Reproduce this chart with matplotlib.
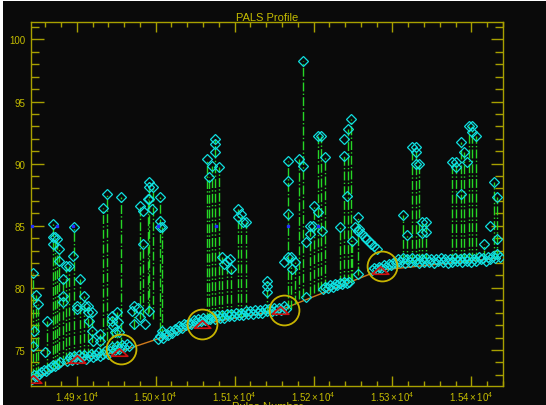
# PALS profile: signal vs pulse number, with the fitted trend and marked segments
import matplotlib.pyplot as plt
from matplotlib.ticker import MultipleLocator, FuncFormatter
from matplotlib.patches import Rectangle

title = 'PALS Profile'
xlabel = 'Pulse Number'

# baseline samples (dense cyan band)
base_pulse = [14843, 14846, 14849, 14852, 14855, 14858, 14861, 14864, 14867, 14870, 14873, 14876, 14879,
              14888, 14891, 14894, 14897, 14900, 14903, 14906, 14909, 14912, 14915, 14918, 14921, 14924,
              14927, 14930, 14933, 14936, 14939,
              14942, 14945, 14948, 14951, 14954, 14957, 14960, 14963, 14966,
              15003, 15006, 15009, 15012, 15015, 15018, 15021, 15024, 15027, 15030, 15033, 15036, 15039,
              15042, 15045, 15048, 15051, 15054, 15057, 15060, 15063, 15066,
              15069, 15072, 15075, 15078, 15081, 15084, 15087, 15090, 15093, 15096, 15099, 15102, 15105,
              15108, 15111, 15114, 15117, 15120, 15123, 15126, 15129, 15132, 15135, 15138, 15141, 15144,
              15147, 15150, 15153, 15156, 15159, 15162, 15165,
              15212, 15215, 15218, 15221, 15224, 15227, 15230, 15233, 15236, 15239, 15242, 15245,
              15274, 15277, 15280, 15283, 15286, 15289, 15292, 15295, 15298, 15301,
              15304, 15307, 15310, 15313, 15316, 15319, 15322, 15325, 15328, 15331, 15334, 15337, 15340,
              15343, 15346, 15349, 15352, 15355, 15358, 15361, 15364, 15367, 15370, 15373, 15376, 15379,
              15382, 15385, 15388, 15391, 15394, 15397, 15400, 15403, 15406, 15409, 15412, 15415, 15418,
              15421, 15424, 15427, 15430, 15433, 15436]
base_value = [72.7, 73.0, 72.9, 73.1, 73.2, 73.4, 73.3, 73.5, 73.6, 73.8, 73.7, 73.9, 74.0,
              74.1, 74.4, 74.2, 74.5, 74.3, 74.6, 74.4, 74.6, 74.3, 74.5, 74.7, 74.4, 74.6,
              74.8, 74.5, 74.7, 74.9, 74.7,
              74.9, 75.2, 75.0, 75.3, 75.1, 75.4, 75.2, 75.5, 75.3,
              75.9, 76.1, 76.0, 76.3, 76.2, 76.5, 76.4, 76.7, 76.6, 76.9, 76.8, 77.1, 77.0,
              77.2, 77.1, 77.4, 77.2, 77.5, 77.3, 77.6, 77.4, 77.5,
              77.5, 77.7, 77.5, 77.8, 77.6, 77.8, 77.6, 77.9, 77.7, 77.9, 77.7, 78.0, 77.8,
              78.0, 77.8, 78.1, 77.9, 78.1, 77.9, 78.2, 78.0, 78.2, 78.0, 78.3, 78.1, 78.3,
              78.1, 78.4, 78.2, 78.4, 78.2, 78.5, 78.3,
              79.9, 80.1, 80.0, 80.2, 80.1, 80.3, 80.2, 80.4, 80.3, 80.5, 80.4, 80.5,
              81.4, 81.6, 81.5, 81.7, 81.6, 81.8, 81.7, 81.9, 81.8, 82.0,
              82.0, 82.3, 82.1, 82.4, 82.0, 82.3, 82.1, 82.4, 82.2, 82.3, 82.0, 82.3, 82.1,
              82.4, 82.1, 82.3, 82.0, 82.3, 82.2, 82.4, 82.1, 82.3, 82.0, 82.3, 82.1, 82.4,
              82.2, 82.3, 82.1, 82.4, 82.2, 82.4, 82.1, 82.3, 82.2, 82.5, 82.3, 82.4, 82.2,
              82.5, 82.3, 82.6, 82.4, 82.7, 82.5]

# spikes: vertical dash-dot line from low to high, diamond on top
spike_pulse = [14844, 14848, 14851, 14862, 14870, 14872, 14875, 14878, 14882, 14886,
               14890, 14896, 14904, 14909, 14914, 14919, 14929, 14933, 14938, 14944,
               14951, 14956, 14973, 14980, 14984, 14990, 14992, 14996, 15005, 15008,
               15065, 15068, 15071, 15075, 15080, 15084, 15090, 15096, 15104, 15108,
               15114, 15141, 15167, 15171, 15176, 15182, 15187, 15195, 15201, 15205,
               15209, 15214, 15233, 15239, 15243, 15247, 15249, 15256, 15313, 15318,
               15325, 15330, 15334, 15338, 15343, 15376, 15381, 15387, 15391, 15397,
               15401, 15406, 15416, 15429, 15432]
spike_high = [81.19, 79.42, 78.70, 77.33, 85.13, 84.08, 83.92, 83.12, 80.71, 81.75,
              81.75, 84.89, 80.71, 79.34, 78.54, 78.05, 76.29, 86.42, 87.54, 77.73,
              78.05, 87.30, 78.54, 86.58, 83.52, 87.14, 88.51, 88.10, 87.30, 84.89,
              90.35, 88.91, 89.79, 91.96, 89.71, 82.48, 82.15, 81.51, 86.34, 85.93,
              85.29, 80.55, 90.19, 82.48, 82.07, 90.35, 98.23, 84.97, 86.58, 92.20,
              92.20, 90.52, 84.89, 90.60, 92.77, 93.57, 83.76, 85.69, 85.85, 84.25,
              91.32, 91.32, 89.95, 85.29, 85.29, 90.11, 90.11, 91.72, 90.92, 93.01,
              93.01, 92.20, 83.52, 88.51, 87.30]
spike_low = [72.83, 72.91, 72.99, 73.31, 73.47, 73.55, 73.63, 73.79, 73.87, 74.12,
             74.20, 74.28, 74.36, 74.44, 74.44, 74.44, 74.52, 74.52, 74.60, 74.76,
             75.08, 75.32, 76.69, 77.49, 77.65, 77.89, 78.05, 77.49, 76.53, 76.05,
             77.33, 77.33, 77.41, 77.41, 77.49, 77.49, 77.57, 77.57, 77.65, 77.65,
             77.65, 77.97, 78.30, 78.30, 78.70, 79.10, 79.26, 79.42, 79.58, 79.74,
             79.82, 79.98, 80.31, 80.39, 80.39, 80.47, 80.47, 81.03, 81.99, 81.99,
             81.99, 81.99, 82.07, 82.07, 82.07, 82.07, 82.07, 82.07, 82.07, 82.15,
             82.15, 82.15, 82.30, 82.32, 82.32]

# other diamonds above the baseline
peak_pulse = [14845, 14846, 14860, 14870, 14870, 14878, 14882, 14882, 14895, 14900,
              14900, 14910, 14914, 14916, 14919, 14920, 14929, 14944, 14946, 14948,
              14952, 14954, 14970, 14973, 14977, 14980, 14984, 14986, 14992, 14992,
              14992, 14995, 15005, 15005, 15008, 15075, 15075, 15087, 15094, 15104,
              15110, 15141, 15141, 15163, 15167, 15167, 15167, 15173, 15186, 15191,
              15191, 15195, 15199, 15205, 15211, 15239, 15242, 15252, 15256, 15256,
              15258, 15261, 15265, 15267, 15271, 15273, 15277, 15280, 15330, 15330,
              15338, 15343, 15381, 15387, 15395, 15401, 15424, 15432]
peak_value = [75.30, 76.50, 74.80, 84.08, 83.52, 82.15, 79.34, 78.86, 82.56, 78.54,
              78.30, 78.54, 78.05, 77.33, 76.53, 75.72, 75.72, 77.33, 76.93, 76.45,
              77.25, 76.45, 78.14, 77.09, 78.38, 77.65, 86.17, 77.09, 88.10, 87.14,
              78.14, 86.34, 85.37, 84.89, 76.53, 91.56, 90.92, 81.91, 82.32, 85.69,
              85.29, 80.14, 79.66, 82.07, 88.59, 85.93, 82.48, 81.51, 89.79, 83.68,
              79.26, 84.33, 84.97, 86.09, 84.57, 91.96, 87.38, 84.89, 84.57, 81.11,
              84.73, 84.33, 84.08, 83.92, 83.68, 83.52, 83.36, 83.12, 90.92, 89.95,
              84.41, 84.49, 89.71, 87.54, 90.11, 92.53, 84.97, 83.92]

# fitted trend (orange) and segment markers
fit_pulse = [14844, 14900, 14953, 15059, 15158, 15284, 15435]
fit_value = [72.67, 74.28, 74.84, 77.09, 78.22, 81.43, 82.40]
circle_pulse = [14956, 15059, 15162, 15287]
circle_value = [75.08, 77.09, 78.22, 81.75]
blue_pulse = [14843, 14875, 14895, 15003, 15077, 15167, 15205]
blue_value = [85, 85, 85, 85, 85, 85, 85]

axis_color = '#a8a000'
text_color = '#c4bc00'
bg = '#0a0a0a'

plt.rcParams['font.family'] = 'Liberation Sans'
plt.rcParams['mathtext.fontset'] = 'custom'
plt.rcParams['mathtext.rm'] = 'Liberation Sans'
plt.rcParams['mathtext.it'] = 'Liberation Sans:italic'

fig = plt.figure(figsize=(5.46, 4.06), dpi=100, facecolor='white')
fig.patches.append(Rectangle((3 / 546, 0), 1, 404 / 406, transform=fig.transFigure,
                             facecolor=bg, edgecolor='none', zorder=-10))
ax = fig.add_axes([31 / 546, 19 / 406, 472 / 546, 364 / 406])
ax.set_facecolor(bg)

ax.vlines(spike_pulse, spike_low, spike_high, colors='#26d626', linestyles='dashdot', linewidth=1.0, zorder=2)
ax.plot(fit_pulse, fit_value, color='#d07a1c', linewidth=1, zorder=1)

all_pulse = base_pulse + peak_pulse + spike_pulse
all_value = base_value + peak_value + spike_high
ax.plot(all_pulse, all_value, ls='none', marker='D', markersize=4.6, mfc='none',
        mec='#10e0e0', mew=0.9, zorder=3)

tri = [(-1, -0.45), (1, -0.45), (0, 0.45), (-1, -0.45)]
ax.plot(fit_pulse[:-1], fit_value[:-1], ls='none', marker=tri, markersize=12, mfc='none',
        mec='#d01010', mew=1.2, zorder=4)
ax.plot(circle_pulse, circle_value, ls='none', marker='o', markersize=21.5, mfc='none',
        mec='#c8b400', mew=1.3, zorder=5)
ax.plot(blue_pulse, blue_value, ls='none', marker='s', markersize=1.5, color='#2030ff', zorder=4)

ax.set_xlim(14842, 15440)
ax.set_ylim(72.1, 101.4)

ax.xaxis.set_major_locator(MultipleLocator(100))
ax.xaxis.set_minor_locator(MultipleLocator(20))
ax.yaxis.set_major_locator(MultipleLocator(5))
ax.yaxis.set_minor_locator(MultipleLocator(1))
ax.xaxis.set_major_formatter(FuncFormatter(
    lambda v, pos: r'$\mathrm{%.2f}\times\mathrm{10}^{\mathrm{4}}$' % (v / 1e4)))

ax.tick_params(which='both', direction='in', top=True, right=True, colors=axis_color,
               labelcolor=text_color, labelsize=7, width=1)
ax.tick_params(axis='x', which='major', length=7, pad=2)
ax.tick_params(axis='x', which='minor', length=3.5)
ax.tick_params(axis='y', which='major', length=9, pad=4)
ax.tick_params(axis='y', which='minor', length=5.5)
for s in ax.spines.values():
    s.set_color(axis_color)
    s.set_linewidth(1)

ax.set_title(title, color=text_color, fontsize=8, pad=-1)
# axis label sits at the very bottom edge, partly cut off as in the original export
fig.text(267 / 546, 4 / 406, xlabel, color=text_color, fontsize=8, ha='center', va='top')

plt.savefig('out.png', dpi=100, facecolor=fig.get_facecolor())
